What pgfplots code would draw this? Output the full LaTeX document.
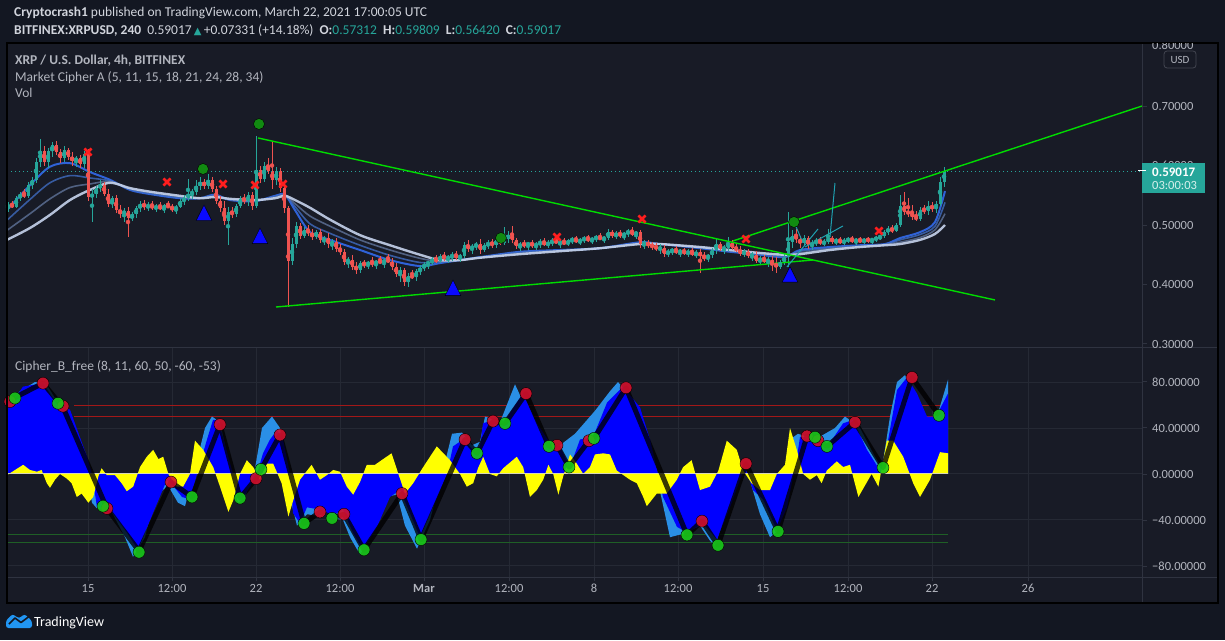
\documentclass[border=0pt]{standalone}
\usepackage{pgfplots}
\pgfplotsset{compat=1.18}
\usepackage{pgfplotstable}
\usepgfplotslibrary{fillbetween}
\usepackage{fontspec}
\setmainfont{Carlito}
\newfontfamily\sym{DejaVu Sans}

\definecolor{outerbg}{HTML}{131722}
\definecolor{innerbg}{HTML}{181B26}
\definecolor{gridc}{HTML}{252934}
\definecolor{sepc}{HTML}{2F3340}
\definecolor{txt}{HTML}{B2B5BE}
\definecolor{hdr}{HTML}{D1D4DC}
\definecolor{tvteal}{HTML}{26A69A}
\definecolor{cup}{HTML}{26A69A}
\definecolor{cdn}{HTML}{EF5350}
\definecolor{trend}{HTML}{00DC00}
\definecolor{xred}{HTML}{FF1E1E}
\definecolor{gdot}{HTML}{118A11}
\definecolor{tri}{HTML}{0A0AFF}
\definecolor{rib1}{HTML}{2F62D8}
\definecolor{rib2}{HTML}{3F6CC0}
\definecolor{rib3}{HTML}{5F7399}
\definecolor{rib4}{HTML}{C6D3EC}
\definecolor{ribfill}{HTML}{2B4D94}
\definecolor{lblue}{HTML}{2A8FE6}
\definecolor{wblue}{HTML}{0000FF}
\definecolor{mfi}{HTML}{FFFF00}
\definecolor{obred}{HTML}{A31818}
\definecolor{osgreen}{HTML}{1F5F26}
\definecolor{dred}{HTML}{D2102C}
\definecolor{dgreen}{HTML}{19C819}
\definecolor{cyanl}{HTML}{1FA0B0}
\definecolor{tvblue}{HTML}{2196F3}
\definecolor{zeroc}{HTML}{D7D7B4}
\definecolor{boxtxt}{HTML}{D7F0EC}
\definecolor{badge}{HTML}{434651}

% ---------- candles (i = 4h bar index, 0 = Feb 15 00:00) ----------
\pgfplotstableread{
i o h l c
-20 0.530 0.538 0.522 0.534
-18 0.531 0.548 0.528 0.545
-17 0.545 0.556 0.540 0.552
-15 0.549 0.572 0.545 0.568
-14 0.568 0.580 0.560 0.575
-13 0.575 0.612 0.570 0.606
-12 0.606 0.645 0.598 0.625
-10 0.606 0.630 0.596 0.624
-9 0.624 0.640 0.615 0.634
-6 0.612 0.632 0.606 0.626
-3 0.608 0.616 0.598 0.612
-1 0.603 0.624 0.595 0.620
1 0.547 0.560 0.505 0.552
2 0.552 0.566 0.545 0.562
3 0.562 0.575 0.555 0.568
6 0.536 0.548 0.528 0.545
9 0.518 0.528 0.505 0.524
11 0.512 0.522 0.506 0.518
12 0.518 0.532 0.512 0.528
13 0.528 0.540 0.522 0.536
15 0.530 0.538 0.524 0.534
17 0.528 0.536 0.522 0.532
19 0.527 0.535 0.520 0.533
22 0.526 0.534 0.518 0.531
23 0.531 0.545 0.528 0.540
24 0.540 0.550 0.534 0.546
25 0.546 0.578 0.540 0.552
26 0.552 0.560 0.544 0.556
27 0.556 0.575 0.550 0.566
28 0.566 0.580 0.558 0.572
30 0.566 0.585 0.560 0.575
35 0.506 0.530 0.466 0.522
37 0.518 0.536 0.514 0.532
38 0.532 0.548 0.528 0.544
40 0.540 0.555 0.532 0.550
42 0.532 0.650 0.528 0.592
44 0.578 0.606 0.572 0.600
47 0.575 0.598 0.568 0.590
51 0.440 0.478 0.432 0.468
52 0.468 0.505 0.462 0.498
54 0.482 0.496 0.478 0.492
57 0.480 0.492 0.476 0.489
59 0.474 0.482 0.466 0.478
61 0.468 0.476 0.458 0.472
65 0.438 0.446 0.428 0.442
68 0.425 0.440 0.420 0.436
70 0.432 0.440 0.426 0.438
72 0.434 0.442 0.426 0.440
74 0.436 0.444 0.428 0.442
78 0.418 0.430 0.405 0.424
80 0.405 0.420 0.395 0.415
82 0.412 0.426 0.406 0.422
83 0.422 0.432 0.416 0.428
84 0.428 0.438 0.422 0.434
85 0.434 0.440 0.426 0.438
86 0.438 0.446 0.432 0.442
88 0.440 0.452 0.436 0.448
90 0.444 0.450 0.436 0.446
91 0.446 0.454 0.440 0.450
93 0.445 0.452 0.438 0.448
94 0.448 0.472 0.444 0.466
96 0.460 0.468 0.452 0.464
97 0.464 0.472 0.458 0.468
99 0.458 0.470 0.454 0.466
100 0.466 0.474 0.460 0.470
102 0.466 0.478 0.462 0.474
104 0.470 0.496 0.466 0.476
105 0.476 0.490 0.470 0.484
108 0.464 0.472 0.456 0.468
110 0.466 0.472 0.458 0.470
112 0.465 0.471 0.458 0.468
113 0.468 0.476 0.462 0.472
115 0.467 0.474 0.462 0.470
116 0.470 0.478 0.465 0.474
118 0.470 0.476 0.462 0.472
120 0.468 0.476 0.464 0.474
121 0.474 0.480 0.468 0.476
123 0.472 0.478 0.466 0.475
124 0.475 0.482 0.470 0.478
126 0.474 0.480 0.468 0.477
127 0.477 0.484 0.472 0.480
129 0.476 0.482 0.470 0.479
130 0.479 0.494 0.474 0.488
132 0.482 0.490 0.476 0.486
134 0.482 0.488 0.474 0.486
135 0.486 0.494 0.480 0.490
137 0.484 0.490 0.476 0.488
139 0.468 0.474 0.460 0.470
143 0.460 0.468 0.452 0.462
145 0.452 0.460 0.446 0.456
146 0.456 0.462 0.450 0.458
148 0.454 0.460 0.446 0.457
150 0.452 0.460 0.446 0.456
152 0.450 0.458 0.444 0.454
155 0.444 0.452 0.438 0.450
156 0.450 0.462 0.444 0.458
157 0.458 0.476 0.452 0.468
159 0.460 0.466 0.452 0.462
160 0.462 0.480 0.456 0.470
164 0.452 0.460 0.446 0.455
166 0.448 0.454 0.440 0.450
168 0.440 0.448 0.432 0.444
170 0.438 0.446 0.430 0.442
173 0.430 0.442 0.426 0.438
174 0.438 0.452 0.432 0.446
175 0.446 0.522 0.430 0.472
176 0.472 0.492 0.462 0.482
179 0.470 0.484 0.464 0.478
181 0.466 0.474 0.458 0.470
182 0.470 0.478 0.464 0.474
184 0.469 0.476 0.464 0.472
185 0.472 0.494 0.468 0.478
187 0.472 0.478 0.466 0.475
189 0.470 0.478 0.466 0.474
190 0.474 0.480 0.470 0.476
192 0.473 0.478 0.466 0.475
194 0.472 0.478 0.468 0.476
196 0.474 0.478 0.468 0.476
197 0.476 0.482 0.472 0.478
198 0.478 0.484 0.474 0.482
199 0.482 0.492 0.478 0.488
200 0.488 0.498 0.484 0.494
202 0.490 0.504 0.488 0.500
203 0.500 0.550 0.496 0.532
208 0.510 0.530 0.506 0.526
210 0.524 0.540 0.516 0.532
212 0.528 0.540 0.520 0.536
213 0.536 0.580 0.532 0.573
214 0.57312 0.59809 0.56420 0.59017
}\candUp

\pgfplotstableread{
i o h l c
-19 0.534 0.540 0.528 0.531
-16 0.552 0.560 0.546 0.549
-11 0.625 0.632 0.600 0.606
-8 0.634 0.642 0.618 0.622
-7 0.622 0.628 0.605 0.612
-5 0.626 0.630 0.610 0.615
-4 0.615 0.622 0.600 0.608
-2 0.612 0.618 0.596 0.603
0 0.620 0.628 0.540 0.547
4 0.568 0.572 0.548 0.552
5 0.552 0.560 0.530 0.536
7 0.545 0.550 0.520 0.525
8 0.525 0.534 0.512 0.518
10 0.524 0.530 0.480 0.512
14 0.536 0.542 0.525 0.530
16 0.534 0.540 0.526 0.528
18 0.532 0.538 0.525 0.527
20 0.533 0.540 0.528 0.530
21 0.530 0.536 0.522 0.526
29 0.572 0.578 0.560 0.566
31 0.575 0.580 0.556 0.560
32 0.560 0.566 0.535 0.540
33 0.540 0.548 0.522 0.528
34 0.528 0.540 0.500 0.506
36 0.522 0.530 0.512 0.518
39 0.544 0.552 0.535 0.540
41 0.550 0.556 0.525 0.532
43 0.592 0.600 0.570 0.578
45 0.600 0.612 0.585 0.590
46 0.590 0.640 0.560 0.575
48 0.590 0.596 0.556 0.562
49 0.562 0.568 0.520 0.528
50 0.528 0.532 0.362 0.440
53 0.498 0.504 0.476 0.482
55 0.492 0.500 0.482 0.486
56 0.486 0.494 0.474 0.480
58 0.489 0.494 0.470 0.474
60 0.478 0.486 0.462 0.468
62 0.472 0.478 0.455 0.460
63 0.460 0.468 0.450 0.455
64 0.455 0.460 0.432 0.438
66 0.442 0.450 0.424 0.430
67 0.430 0.438 0.418 0.425
69 0.436 0.442 0.428 0.432
71 0.438 0.446 0.430 0.434
73 0.440 0.448 0.434 0.436
75 0.442 0.452 0.436 0.438
76 0.438 0.445 0.425 0.430
77 0.430 0.436 0.412 0.418
79 0.424 0.428 0.398 0.405
81 0.415 0.425 0.410 0.412
87 0.442 0.450 0.436 0.440
89 0.448 0.454 0.440 0.444
92 0.450 0.456 0.442 0.445
95 0.466 0.474 0.455 0.460
98 0.468 0.476 0.452 0.458
101 0.470 0.476 0.462 0.466
103 0.474 0.480 0.466 0.470
106 0.484 0.498 0.470 0.474
107 0.474 0.478 0.460 0.464
109 0.468 0.474 0.462 0.466
111 0.470 0.474 0.462 0.465
114 0.472 0.478 0.464 0.467
117 0.474 0.480 0.468 0.470
119 0.472 0.478 0.466 0.468
122 0.476 0.482 0.470 0.472
125 0.478 0.484 0.472 0.474
128 0.480 0.486 0.474 0.476
131 0.488 0.492 0.478 0.482
133 0.486 0.492 0.478 0.482
136 0.490 0.496 0.482 0.484
138 0.488 0.492 0.462 0.468
140 0.470 0.474 0.462 0.466
141 0.466 0.472 0.458 0.464
142 0.464 0.470 0.456 0.460
144 0.462 0.466 0.446 0.452
147 0.458 0.464 0.452 0.454
149 0.457 0.462 0.450 0.452
151 0.456 0.462 0.448 0.450
153 0.454 0.460 0.420 0.448
154 0.448 0.454 0.440 0.444
158 0.468 0.472 0.456 0.460
161 0.470 0.474 0.458 0.462
162 0.462 0.468 0.454 0.458
163 0.458 0.464 0.448 0.452
165 0.455 0.460 0.444 0.448
167 0.450 0.456 0.436 0.440
169 0.444 0.450 0.436 0.438
171 0.442 0.448 0.422 0.434
172 0.434 0.446 0.420 0.430
177 0.482 0.494 0.470 0.476
178 0.476 0.482 0.462 0.470
180 0.478 0.482 0.460 0.466
183 0.474 0.480 0.466 0.469
186 0.478 0.482 0.468 0.472
188 0.475 0.480 0.468 0.470
191 0.476 0.482 0.470 0.473
193 0.475 0.480 0.470 0.472
195 0.476 0.480 0.470 0.474
201 0.494 0.500 0.486 0.490
204 0.532 0.556 0.516 0.522
205 0.522 0.546 0.514 0.520
206 0.520 0.534 0.508 0.514
207 0.514 0.524 0.506 0.510
209 0.526 0.534 0.518 0.524
211 0.532 0.538 0.522 0.528
}\candDn

% ---------- Market Cipher A ribbon (fast e1 ... slow e4) ----------
\pgfplotstableread{
i e1 e2 e3 e4
-20.25 0.525 0.508 0.491 0.475
-14.5 0.567 0.543 0.519 0.495
-9.5 0.598 0.571 0.544 0.517
-4.5 0.604 0.583 0.563 0.542
0.5 0.589 0.579 0.569 0.559
5.5 0.576 0.574 0.573 0.571
10.5 0.559 0.560 0.561 0.562
15.5 0.552 0.553 0.555 0.556
23 0.545 0.546 0.548 0.549
28 0.545 0.545 0.545 0.545
31.75 0.551 0.550 0.548 0.547
35.5 0.542 0.543 0.543 0.544
41.75 0.540 0.541 0.541 0.542
46.75 0.549 0.548 0.546 0.545
49.25 0.551 0.550 0.550 0.549
51.75 0.525 0.531 0.536 0.542
55.5 0.488 0.502 0.515 0.529
60.5 0.475 0.486 0.498 0.509
68 0.458 0.466 0.475 0.483
75.5 0.441 0.449 0.458 0.466
83 0.431 0.437 0.444 0.450
88 0.436 0.438 0.439 0.441
93 0.441 0.441 0.441 0.441
98 0.446 0.446 0.445 0.445
108 0.455 0.454 0.452 0.451
118 0.458 0.457 0.457 0.456
128 0.461 0.461 0.461 0.461
138 0.471 0.470 0.469 0.468
143 0.468 0.468 0.468 0.468
153 0.461 0.462 0.462 0.463
160.5 0.455 0.456 0.457 0.458
168 0.450 0.451 0.452 0.453
174.25 0.446 0.447 0.449 0.450
178 0.458 0.456 0.453 0.451
185.5 0.463 0.461 0.460 0.458
193 0.466 0.465 0.464 0.463
199.25 0.468 0.467 0.467 0.466
203 0.478 0.475 0.471 0.468
208 0.488 0.484 0.479 0.475
211.75 0.505 0.498 0.492 0.485
214.25 0.557 0.538 0.519 0.500
}\ribbon

% ---------- Cipher B ----------
\pgfplotstableread{
i v
-20.25 60
-17 72
-13.25 80
-10.75 80
-8.25 66
-5 55
-0.75 10
1 -25
2.25 -30
5.5 -30
9.25 -55
11.25 -72
14.25 -55
16.75 -20
20 -10
22.5 -25
24.25 -28
26.75 5
29.25 40
31 50
33 45
35.5 5
37.5 -25
39.25 -20
41.75 5
43.5 40
46 50
48 40
50.5 -20
52.25 -45
54.75 -35
60.5 -38
63.75 -40
65.5 -55
68 -70
71.25 -50
74.25 -20
77.25 -18
79.25 -45
82.25 -65
85.5 -40
89.25 10
91 35
93.5 36
96 25
98 28
99.25 50
103 45
106.75 78
110.5 50
114 30
118 25
121.75 35
126.75 55
130.5 72
132.5 80
136.25 65
140.5 20
143 -15
145.5 -55
148.75 -52
153 -45
155.5 -58
156.75 -62
160 -30
163 0
165 0
168 -35
170.5 -55
172.25 -50
175.5 30
177.5 35
181.75 30
186.75 40
189.25 50
193 40
196.75 15
198.5 5
200.5 50
202.25 80
204.25 86
206.75 70
209.25 48
212.25 50
215 82
}\wtone

\pgfplotstableread{
i v
-20.25 66
-18.25 66
-16.25 76
-11.25 79
-8.75 66
-6.25 58
-4.5 56
-0.25 15
1 0
2.25 -29
5.5 -31
9.75 -51
12.5 -66
16.25 -34
19.75 -5
21.25 -10
23.5 -20
25.5 -22
27.25 0
29.75 30
31.25 47
32.5 47
33.75 32
36.25 0
37.25 -20
38.5 -22
40.5 -11
42.25 0
43.75 18
45.5 30
47.25 38
48.75 30
50.5 0
51.25 -34
53 -43
54.75 -29
58 -31
61.25 -36
63.75 -31
66.25 -51
68.75 -66
72.25 -46
75.5 -20
78 -14
80.5 -34
83 -55
86.25 -29
89.75 0
91.25 24
93.75 30
96.25 21
98 24
98.75 44
101.25 47
103.75 44
108.75 70
112.25 44
115.5 27
118 24
120.5 6
123 30
126.25 32
129.75 62
133.75 76
138 58
140.5 30
142.5 0
143.75 -20
147.25 -46
149.75 -51
153.75 -43
157.25 -57
160.5 -29
163 -5
164.25 6
166.25 -14
168.75 -22
172.25 -49
174.75 -29
177.25 15
178 32
180.5 32
183 27
185.5 27
188.75 44
191.25 47
194.75 21
198 3
199.75 24
202.25 73
204.75 84
207.25 70
209.75 50
212 50
215 70
}\wttwo

\pgfplotstableread{
i v
-20.25 -1
-18.25 3.5
-16.2 8
-14.5 3.5
-12.8 2
-11.6 3.5
-10.3 -8
-9.5 -12
-8.25 -5
-7 0
-5.3 -4
-4.1 -8
-2.8 -20
-1.6 -17
0.1 -25
1.3 -20
2.6 -2
3.4 5
4.7 -1
6.75 -1
8.4 -8
9.7 -15
11.3 -11
13 6
14.7 15
16.3 21
17.6 13
18.8 15
20.1 0
22.2 -11
23.8 -11
25.5 0
26.75 29
28.8 21
31.3 6
33 -11
35.1 -33
36.3 -23
38 0
39.7 12
41.3 6
43 -5
44.7 9
46.3 9
48.4 -8
50.1 -37
51.3 -23
53 -5
55.9 8
58 -5
59.7 -1
61.3 3.5
63 2
64.7 -11
66.3 -18
68 -7
69.7 8
71.75 8
73.8 13
75.9 18
77.6 0
79.25 -17
81.3 -8
83.8 6
87.2 24
90.5 12
93 0
94.7 -11
96.3 -8
97.5 5
98.8 15
100.5 0
102.2 -2
103.8 5
107.2 15
108.8 6
110.5 -20
112.2 -14
113.8 -5
115.1 8
116.3 0
117.6 -18
118.8 -2
120.5 17
122.2 9
123.8 0
125.5 6
126.75 17
128.8 18
130.5 17
132.2 3
135.5 -5
137.2 -8
138.8 -20
139.7 -28
142.2 -17
144.7 -17
147.2 -5
148.8 6
150.9 12
153 -14
155.5 -11
157.6 3
159.7 29
162.2 21
163.8 3
165.9 -8
168 -14
170.5 -14
172.2 0
174.25 8
175.5 40
177.2 21
178.8 0
180.5 -5
182.2 -1
183.4 -8
184.7 3
187.2 11
188.8 6
190.5 8
192.6 -20
194.25 -10
195.9 0
197.6 -11
199.7 29
201.3 29
203.8 15
206.3 -8
208 -20
210.5 -5
213 19
215 18
}\mfi

\pgfplotstableread{
i v
-20.25 63
-11.25 79
-6.25 58
4.75 -30
12.75 -67
20.75 -7
26 -20
33 43
38 -21
42 -4
48 34
54 -43
58 -33
61 -38
64 -35
69 -66
78.5 -17
83.25 -57
94.25 30
97.25 18
101.25 46
104.25 44
109.5 70
115.25 24
117.25 25
120.25 6
125.25 29
126.5 31
134.5 75
149.75 -53
153.5 -41
157.5 -62
164.5 9
172.5 -50
179.75 33
181.75 32
184.75 24
191.75 45
198.75 5.5
206 84
212.75 51
}\blk

\begin{document}
\begin{tikzpicture}[x=1pt,y=1pt]
\fill[outerbg] (0,0) rectangle (1225,640);
\fill[innerbg] (7,37) rectangle (1218,597);

\pgfplotsset{tvax/.style={
  scale only axis, width=1135pt, xmin=-20.25, xmax=263.5,
  axis line style={draw=none}, major tick length=0pt,
  xticklabels={}, yticklabels={},
  tick label style={inner sep=0pt, outer sep=0pt, font=\tiny},
  xtick={0,21,42,63,84,105.25,126.5,147.5,168.75,190,211,235},
  grid=major, major grid style={draw=gridc, line width=1pt},
  clip=true}}

% ================= price pane =================
\begin{axis}[tvax, at={(7pt,292pt)}, anchor=south west, height=305pt,
  ymin=0.2933, ymax=0.8059, ytick={0.3,0.4,0.5,0.6,0.7,0.8}]
% ribbon
\addplot[name path=e1, draw=none, smooth, forget plot] table[x=i,y=e1]{\ribbon};
\addplot[name path=e4, draw=none, smooth, forget plot] table[x=i,y=e4]{\ribbon};
\addplot[fill=ribfill, fill opacity=0.45, draw=none, forget plot] fill between[of=e1 and e4];
\addplot[draw=rib1, line width=2pt, smooth, forget plot] table[x=i,y=e1]{\ribbon};
\addplot[draw=rib2, line width=1.6pt, smooth, opacity=0.8, forget plot] table[x=i,y=e2]{\ribbon};
\addplot[draw=rib3, line width=1.6pt, smooth, opacity=0.8, forget plot] table[x=i,y=e3]{\ribbon};
\addplot[draw=rib4, line width=2.4pt, smooth, opacity=0.9, forget plot] table[x=i,y=e4]{\ribbon};
% candles: wicks
\addplot[color=cup, only marks, mark=none, forget plot, error bars/.cd, y dir=both, y explicit, error mark=none,
  error bar style={color=cup, line width=1pt}]
  table[x=i, y expr={(\thisrow{h}+\thisrow{l})/2}, y error expr={(\thisrow{h}-\thisrow{l})/2}]{\candUp};
\addplot[color=cdn, only marks, mark=none, forget plot, error bars/.cd, y dir=both, y explicit, error mark=none,
  error bar style={color=cdn, line width=1pt}]
  table[x=i, y expr={(\thisrow{h}+\thisrow{l})/2}, y error expr={(\thisrow{h}-\thisrow{l})/2}]{\candDn};
% candles: bodies
\addplot[color=cup, only marks, mark=none, forget plot, error bars/.cd, y dir=both, y explicit, error mark=none,
  error bar style={color=cup, line width=3pt}]
  table[x=i, y expr={(\thisrow{o}+\thisrow{c})/2}, y error expr={max(abs(\thisrow{c}-\thisrow{o})/2,0.0008)}]{\candUp};
\addplot[color=cdn, only marks, mark=none, forget plot, error bars/.cd, y dir=both, y explicit, error mark=none,
  error bar style={color=cdn, line width=3pt}]
  table[x=i, y expr={(\thisrow{o}+\thisrow{c})/2}, y error expr={max(abs(\thisrow{c}-\thisrow{o})/2,0.0008)}]{\candDn};
% last price line
\addplot[tvteal, line width=1pt, dash pattern=on 1pt off 3pt, forget plot] coordinates {(-20.25,0.59017) (263.5,0.59017)};
% trend lines
\addplot[trend, line width=1.4pt, forget plot] coordinates {(42.5,0.6463) (226.75,0.3740)};
\addplot[trend, line width=1.4pt, forget plot] coordinates {(47,0.3622) (181.25,0.4412)};
\addplot[trend, line width=1.4pt, forget plot] coordinates {(161.25,0.4732) (263.5,0.7000)};
% small drawn projections
\addplot[cyanl, line width=1pt, forget plot] coordinates {(174.75,0.4295) (182.5,0.4933)};
\addplot[cyanl, line width=1pt, forget plot] coordinates {(185.5,0.4799) (186.75,0.5706)};
\addplot[cyanl, line width=1pt, forget plot] coordinates {(179.25,0.4631) (188.75,0.4984)};
\addplot[cyanl, line width=1pt, forget plot] coordinates {(176.5,0.5051) (178.75,0.4700)};
% signals
\addplot[only marks, mark=x, mark size=5pt, mark options={draw=xred, line width=2.6pt}, forget plot]
  coordinates {(0,0.6227) (19.75,0.5723) (33.75,0.5690) (41.75,0.5673) (48.75,0.5690)
  (117.25,0.4799) (138.5,0.5101) (164.5,0.4765) (197.75,0.4900)};
\addplot[only marks, mark=*, mark size=5.5pt, mark options={draw=none, fill=gdot}, forget plot]
  coordinates {(28.75,0.5942) (42.75,0.6698) (103.25,0.4782) (176.5,0.5051)};
\addplot[only marks, mark=triangle*, mark size=9pt, mark options={draw=none, fill=tri, yscale=1.15}, forget plot]
  coordinates {(29,0.5163) (43,0.4775) (91.25,0.3901) (175.5,0.4127)};
\end{axis}

% ================= oscillator pane =================
\begin{axis}[tvax, at={(7pt,63pt)}, anchor=south west, height=229pt,
  ymin=-89.6, ymax=109.6, ytick={-80,-40,0,40,80}]
\addplot[obred, line width=1pt, forget plot] coordinates {(-3.5,60) (215,60)};
\addplot[obred, line width=1pt, forget plot] coordinates {(-3.5,50) (215,50)};
\addplot[osgreen, line width=1pt, forget plot] coordinates {(-20.25,-53) (215,-53)};
\addplot[osgreen, line width=1pt, forget plot] coordinates {(-20.25,-60) (215,-60)};
\addplot[fill=lblue, draw=none, forget plot] table[x=i,y=v]{\wtone} \closedcycle;
\addplot[fill=wblue, draw=none, forget plot] table[x=i,y=v]{\wttwo} \closedcycle;
\addplot[fill=mfi, draw=none, forget plot] table[x=i,y=v]{\mfi} \closedcycle;
\addplot[zeroc, line width=1pt, forget plot] coordinates {(-20.25,0) (215,0)};
\addplot[black, opacity=0.78, line width=5pt, line join=round, forget plot] table[x=i,y=v]{\blk};
\addplot[only marks, mark=*, mark size=6pt, mark options={draw=none, fill=dred, fill opacity=0.9}, forget plot]
  coordinates {(-19.5,63) (-11.25,79) (-6.25,59) (4.75,-30) (20.75,-7) (33,43) (42,-4) (48,34)
  (58,-33) (64,-35) (78.5,-17) (94.25,30) (101.25,46) (109.5,70) (117.25,25) (125.25,29)
  (134.5,75) (153.5,-41) (164.5,9) (179.75,33) (182.5,29) (191.75,45) (206,84)};
\addplot[only marks, mark=*, mark size=6pt, mark options={draw=none, fill=dgreen, fill opacity=0.9}, forget plot]
  coordinates {(-18.25,66) (-7.5,61.5) (3.75,-28) (12.75,-68) (26,-20) (38,-21) (43.25,4)
  (54,-43) (61,-38.5) (69,-66) (83.25,-57) (97.25,18) (104.25,44) (115.25,24) (120.25,6)
  (126.5,31) (149.75,-53) (157.5,-62) (172.5,-50) (181.75,32) (184.75,24) (198.75,5.5) (212.75,51)};
\end{axis}

% ================= frame / separators =================
\draw[sepc, line width=1pt] (1142,37) -- (1142,597);
\draw[sepc, line width=1pt] (7,292) -- (1218,292);
\draw[sepc, line width=1pt] (7,63) -- (1218,63);
\draw[black, line width=1.3pt] (7,37) rectangle (1218,597);
\foreach \y in {533.5,414.5,355,296,258,212,166,120,74}
  \draw[sepc, line width=1pt] (1142,\y) -- (1147,\y);
\foreach \x in {88,172,256,340,424,509,594,678,763,848,932,1028}
  \draw[sepc, line width=1pt] (\x,63) -- (\x,59);

% price scale labels
\begin{scope}
\clip (1143,292) rectangle (1217,596.5);
\fontsize{12.5}{14}\selectfont
\node[anchor=west, text=txt, inner sep=0pt] at (1152,595) {0.80000};
\node[anchor=west, text=txt, inner sep=0pt] at (1152,534) {0.70000};
\node[anchor=west, text=txt, inner sep=0pt] at (1152,415) {0.50000};
\node[anchor=west, text=txt, inner sep=0pt] at (1152,355.5) {0.40000};
\node[anchor=west, text=txt, inner sep=0pt] at (1152,296) {0.30000};
\end{scope}
\begin{scope}
\clip (1143,477.5) rectangle (1217,490);
\node[anchor=west, text=txt, inner sep=0pt] at (1152,474.5) {\fontsize{12.5}{14}\selectfont 0.60000};
\end{scope}
\draw[rounded corners=3pt, draw=badge, fill=innerbg, line width=0.8pt] (1164,572) rectangle (1196,589);
\node[text=txt, inner sep=0pt] at (1180,580.5) {\fontsize{11}{12}\selectfont USD};
\fill[tvteal] (1142,447) rectangle (1205,477);
\draw[white, line width=1pt] (1138,469) -- (1146,469);
\node[anchor=west, text=white, inner sep=0pt] at (1152,468) {\fontsize{13}{14}\selectfont\bfseries 0.59017};
\node[anchor=west, text=boxtxt, inner sep=0pt] at (1152,455) {\fontsize{12.5}{14}\selectfont 03:00:03};

% oscillator scale labels
\begin{scope}
\fontsize{12.5}{14}\selectfont
\node[anchor=west, text=txt, inner sep=0pt] at (1152,258) {80.00000};
\node[anchor=west, text=txt, inner sep=0pt] at (1152,212) {40.00000};
\node[anchor=west, text=txt, inner sep=0pt] at (1152,166) {0.00000};
\node[anchor=west, text=txt, inner sep=0pt] at (1152,120) {−40.00000};
\node[anchor=west, text=txt, inner sep=0pt] at (1152,74) {−80.00000};
\end{scope}

% time labels
\begin{scope}
\fontsize{12.5}{14}\selectfont
\foreach \x/\t in {88/15,172/12:00,256/22,340/12:00,509/12:00,594/8,678/12:00,763/15,848/12:00,932/22,1028/26}
  \node[anchor=base, text=txt, inner sep=0pt] at (\x,47.3) {\t};
\node[anchor=base, text=txt, inner sep=0pt] at (424,47.3) {\bfseries Mar};
\end{scope}

% legends
\begin{scope}
\fontsize{13.5}{15}\selectfont
\node[anchor=base west, text=txt, inner sep=0pt] at (15,575) {\bfseries XRP / U.S. Dollar, 4h, BITFINEX};
\node[anchor=base west, text=txt, inner sep=0pt] at (15,558) {Market Cipher A (5, 11, 15, 18, 21, 24, 28, 34)};
\node[anchor=base west, text=txt, inner sep=0pt] at (15,542) {Vol};
\node[anchor=base west, text=txt, inner sep=0pt] at (15,269.3) {Cipher\_B\_free (8, 11, 60, 50, -60, -53)};
\end{scope}

% header
\begin{scope}
\fontsize{13.5}{15}\selectfont
\node[anchor=base west, text=hdr, inner sep=0pt] at (14,623) {\bfseries Cryptocrash1\mdseries\ published on TradingView.com, March 22, 2021 17:00:05 UTC};
\node[anchor=base west, text=hdr, inner sep=0pt] at (14,605.7) {\bfseries BITFINEX:XRPUSD, 240\mdseries\ \ 0.59017\,{\color{tvteal}\sym\fontsize{10}{12}\selectfont ▲}\,+0.07331 (+14.18\%)\ \ \bfseries O:\mdseries{\color{tvteal}0.57312}\ \ \bfseries H:\mdseries{\color{tvteal}0.59809}\ \ \bfseries L:\mdseries{\color{tvteal}0.56420}\ \ \bfseries C:\mdseries{\color{tvteal}0.59017}};
\end{scope}

% TradingView logo
\fill[tvblue, rounded corners=2.5pt] (6,12) -- (6,19.5) -- (12.5,26) -- (19,21.5) -- (24.5,26) -- (32,19) -- (32,12) -- cycle;
\draw[outerbg, line width=1.6pt, line join=round] (9,16) -- (15,22) -- (21,17.5) -- (29,23.5);
\node[anchor=base west, text=white, inner sep=0pt] at (34,13.3) {\fontsize{14}{16}\selectfont TradingView};

\pgfresetboundingbox
\useasboundingbox (0,0) rectangle (1225,640);
\end{tikzpicture}
\end{document}
